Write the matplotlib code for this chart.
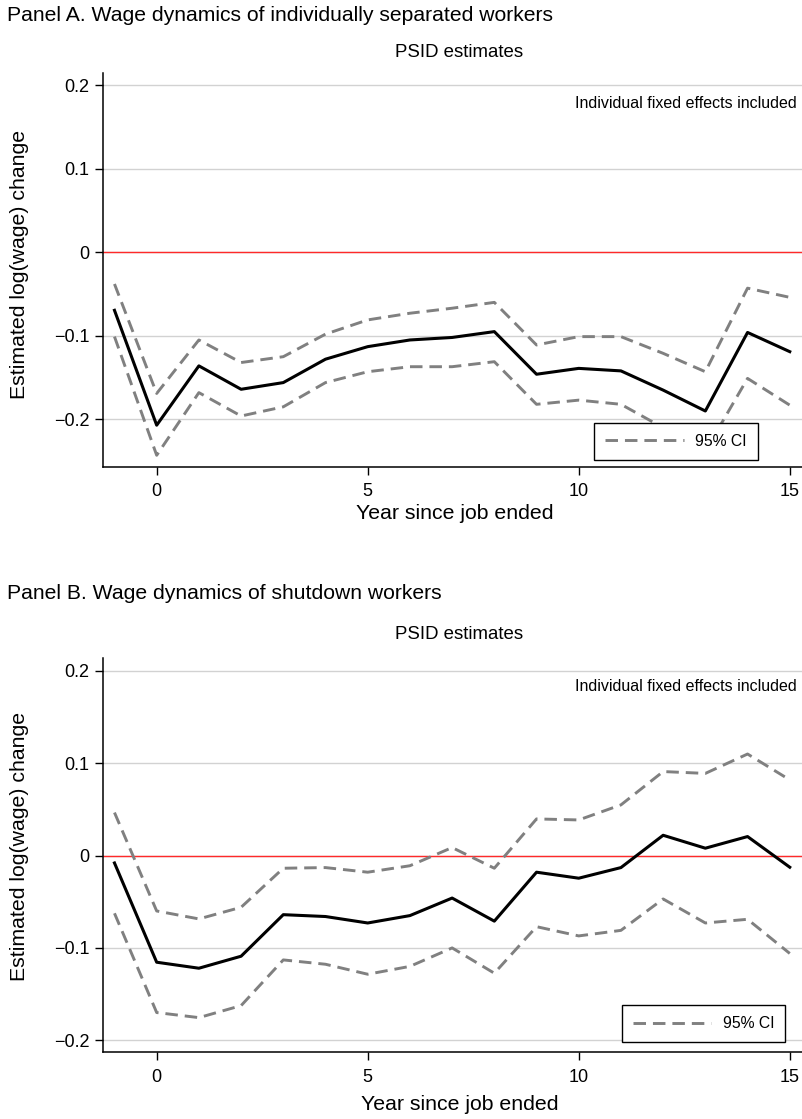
import matplotlib
matplotlib.use('Agg')
import matplotlib.pyplot as plt
from matplotlib.lines import Line2D

plt.rcParams['font.family'] = ['Liberation Sans', 'DejaVu Sans']
plt.rcParams['lines.scale_dashes'] = False

# ---------------- data ----------------
years = list(range(-1, 16))

a_est = [-0.0695, -0.207, -0.136, -0.164, -0.156, -0.128, -0.113, -0.105, -0.102,
         -0.095, -0.146, -0.139, -0.142, -0.165, -0.190, -0.096, -0.119]
a_upper = [-0.038, -0.169, -0.105, -0.132, -0.125, -0.098, -0.081, -0.073, -0.067,
           -0.060, -0.111, -0.101, -0.101, -0.121, -0.143, -0.043, -0.054]
a_lower = [-0.101, -0.243, -0.168, -0.196, -0.185, -0.156, -0.143, -0.137, -0.137,
           -0.131, -0.182, -0.177, -0.182, -0.210, -0.238, -0.151, -0.183]

b_est = [-0.008, -0.1155, -0.122, -0.109, -0.064, -0.066, -0.073, -0.065, -0.046,
         -0.071, -0.018, -0.0245, -0.013, 0.022, 0.008, 0.0206, -0.0126]
b_upper = [0.0466, -0.060, -0.0686, -0.056, -0.0137, -0.013, -0.018, -0.011, 0.0087,
           -0.0137, 0.0397, 0.0386, 0.0549, 0.091, 0.089, 0.110, 0.082]
b_lower = [-0.0625, -0.170, -0.1755, -0.1625, -0.113, -0.1177, -0.1285, -0.120, -0.100,
           -0.1274, -0.077, -0.087, -0.081, -0.047, -0.073, -0.069, -0.106]

yticks = [-0.2, -0.1, 0, 0.1, 0.2]
ytick_labels = ['\u22120.2', '\u22120.1', '0', '0.1', '0.2']
xticks = [0, 5, 10, 15]
xtick_labels = ['0', '5', '10', '15']

panel_titles = ['Panel A. Wage dynamics of individually separated workers',
                'Panel B. Wage dynamics of shutdown workers']
subtitle = 'PSID estimates'
note = 'Individual fixed effects included'
ylabel = 'Estimated log(wage) change'
xlabel = 'Year since job ended'
legend_label = '95% CI'

# ---------------- figure ----------------
W, H = 802, 1119
fig = plt.figure(figsize=(W / 100, H / 100), dpi=100)

CI_COLOR = '#808080'
DASH = (9, 5)

panels = [
    dict(rect=[0.128, 0.5829, 0.872, 0.3518], ylim=(-0.2567, 0.2144),
         est=a_est, up=a_upper, lo=a_lower, title=panel_titles[0],
         title_y=20.7, sub_y=57.3, note_y=0.912, leg=(0.8198, 0.0653),
         ylab=(-0.106, 0.515), xlab=(0.504, -0.132)),
    dict(rect=[0.128, 0.0599, 0.872, 0.352], ylim=(-0.2127, 0.2139),
         est=b_est, up=b_upper, lo=b_lower, title=panel_titles[1],
         title_y=599.3, sub_y=639.3, note_y=0.916, leg=(0.859, 0.0711),
         ylab=(-0.106, 0.521), xlab=(0.510, -0.147)),
]

for p in panels:
    ax = fig.add_axes(p['rect'])
    ax.set_xlim(-1.28, 15.29)
    ax.set_ylim(*p['ylim'])

    ax.set_yticks(yticks)
    ax.set_yticklabels(ytick_labels)
    ax.set_xticks(xticks)
    ax.set_xticklabels(xtick_labels)

    ax.grid(axis='y', color='#d2d2d2', lw=1.0, zorder=0)
    ax.set_axisbelow(True)
    ax.axhline(0, color='#ff2a2a', lw=1.0, zorder=1)

    ax.plot(years, p['up'], color=CI_COLOR, lw=2.1, dashes=DASH, zorder=2)
    ax.plot(years, p['lo'], color=CI_COLOR, lw=2.1, dashes=DASH, zorder=2)
    ax.plot(years, p['est'], color='black', lw=2.2, zorder=3)

    for s in ['top', 'right']:
        ax.spines[s].set_visible(False)
    for s in ['left', 'bottom']:
        ax.spines[s].set_linewidth(1.1)
        ax.spines[s].set_color('black')

    ax.tick_params(axis='both', direction='out', length=5.5, width=1.0,
                   labelsize=13, colors='black')
    ax.tick_params(axis='y', pad=4)
    ax.tick_params(axis='x', pad=6.5)

    ax.set_ylabel(ylabel, fontsize=15.3)
    ax.yaxis.set_label_coords(*p['ylab'])
    ax.set_xlabel(xlabel, fontsize=15.3, va='baseline')
    ax.xaxis.set_label_coords(*p['xlab'])

    ax.text(0.9928, p['note_y'], note, transform=ax.transAxes, ha='right',
            va='baseline', fontsize=11.5)

    handle = Line2D([], [], color=CI_COLOR, lw=2.1, dashes=DASH)
    leg = ax.legend([handle], [legend_label], loc='center',
                    bbox_to_anchor=p['leg'], frameon=True, fancybox=False,
                    edgecolor='black', facecolor='white', framealpha=1,
                    handlelength=5.0, handletextpad=0.75, borderpad=0.7,
                    fontsize=11.3, borderaxespad=0)
    leg.get_frame().set_linewidth(1.0)
    leg.set_zorder(5)

    fig.text(7.3 / W, 1 - p['title_y'] / H, p['title'], ha='left',
             va='baseline', fontsize=15.2)
    fig.text(459.5 / W, 1 - p['sub_y'] / H, subtitle, ha='center',
             va='baseline', fontsize=13.4)

fig.savefig('out.png', dpi=100)
